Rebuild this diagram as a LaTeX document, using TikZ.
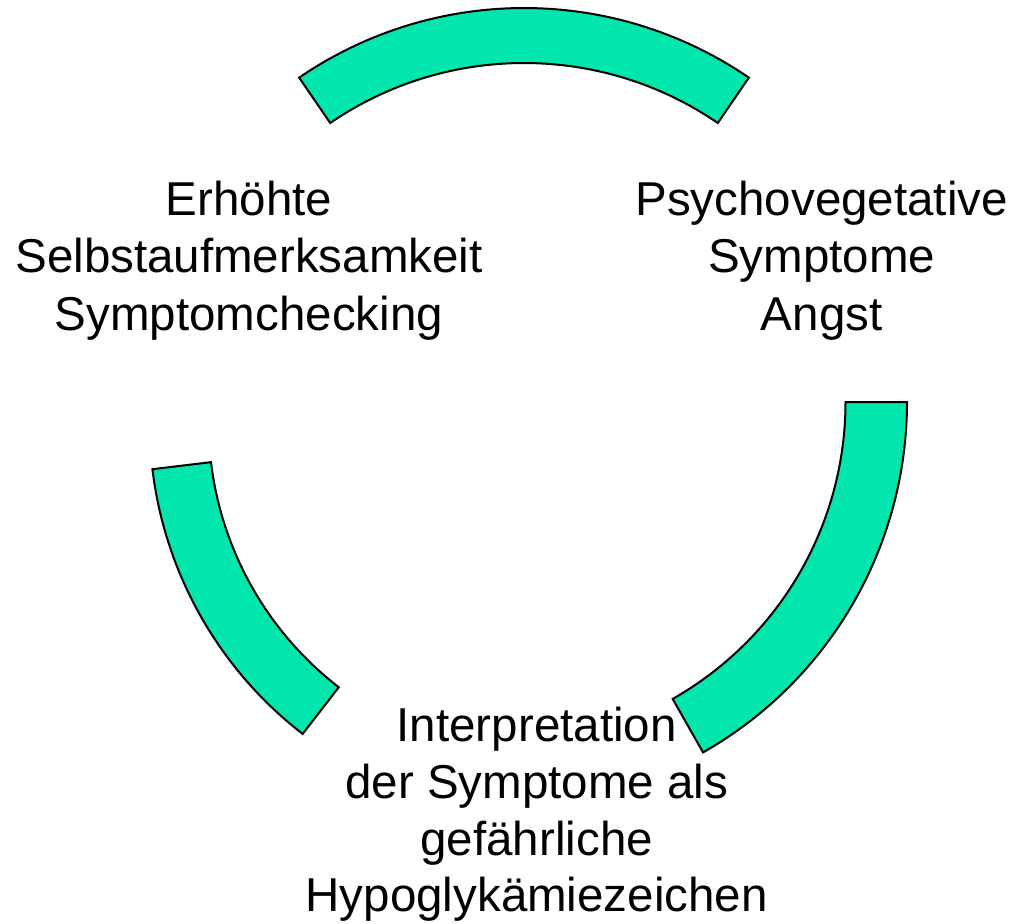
\documentclass[tikz,border=0pt]{standalone}
\usepackage{fontspec}
\setmainfont{Liberation Sans}
\usetikzlibrary{calc}
\definecolor{mint}{HTML}{00E6AC}
\tikzset{
  band/.style={fill=mint, draw=black, line width=2pt, line join=miter},
  label/.style={align=center, inner sep=0pt, anchor=base, font=\fontsize{47.5}{57.5}\selectfont},
  labelb/.style={label, font=\fontsize{47.5}{56.7}\selectfont}
}
\begin{document}
\begin{tikzpicture}[x=1pt,y=-1pt]
\useasboundingbox (0,0) rectangle (1016,923);
% centres of the three bands
\coordinate (ct) at (524,406);
\coordinate (cr) at (504,402);
\coordinate (cl) at (543.6,422.2);
% top band
\draw[band] ($(ct)+(-124.4:398)$) arc[start angle=-124.4, end angle=-55.6, radius=398]
  -- ($(ct)+(-55.6:343)$) arc[start angle=-55.6, end angle=-124.4, radius=343] -- cycle;
% right band
\draw[band] ($(cr)+(0:403)$) arc[start angle=0, end angle=60.4, radius=403]
  -- ($(cr)+(60.4:341.5)$) arc[start angle=60.4, end angle=0, radius=341.5] -- cycle;
% left band
\draw[band] ($(cl)+(-186.85:394)$) arc[start angle=-186.85, end angle=-232.3, radius=394]
  -- ($(cl)+(-232.3:335)$) arc[start angle=-232.3, end angle=-186.85, radius=335] -- cycle;
% texts (anchor = baseline of last line)
\node[label] (left) at (249,330) {Erhöhte\\Selbstaufmerksamkeit\\Symptomchecking};
\node[label] (right) at (821.7,330) {Psychovegetative\\Symptome\\Angst};
\node[labelb] (bottom) at (536.7,911.7) {Interpretation\\der Symptome als\\gefährliche\\Hypoglykämiezeichen};
\end{tikzpicture}
\end{document}
